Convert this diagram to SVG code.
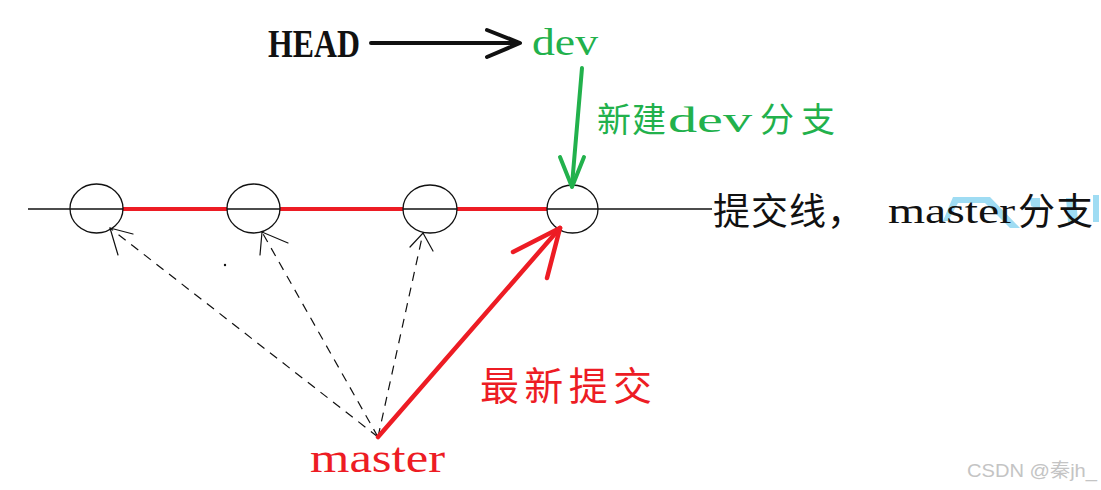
<svg xmlns="http://www.w3.org/2000/svg" width="1101" height="490" viewBox="0 0 1101 490">
<style>
.cjk{font-family:"Noto Sans CJK SC","Noto Sans",sans-serif;}
.ser{font-family:"Liberation Serif","DejaVu Serif",serif;}
.green{fill:#22B14C;}
.red{fill:#ED1C24;}
.blk{fill:#111;}
.commit{fill:none;stroke:#111;stroke-width:1.3;}
.dash{fill:none;stroke:#111;stroke-width:1.2;stroke-dasharray:9 7;}
.thin{fill:none;stroke:#111;stroke-width:1.2;stroke-linecap:round;}
.redl{fill:none;stroke:#ED1C24;stroke-width:4.5;stroke-linecap:round;stroke-linejoin:round;}
.grnl{fill:none;stroke:#22B14C;stroke-width:4;stroke-linecap:round;stroke-linejoin:round;}
.blkl{fill:none;stroke:#111;stroke-width:4;stroke-linecap:round;stroke-linejoin:round;}
.hl{fill:#9fdcf3;}
</style>
<rect width="1101" height="490" fill="#fff"/>

<g id="highlight">
<polygon class="hl" points="943,221 953,197 990,197 1020,228 1010,228 985,203 958,203 948,221"/>
<polygon class="hl" points="1030,198 1040,198 1040,210 1031,206"/>
<polygon class="hl" points="1066,198 1076,198 1078,222 1068,222"/>
<rect class="hl" x="1093" y="195" width="6" height="27"/>
</g>

<g id="commit-line">
<line x1="28" y1="209" x2="712" y2="209" stroke="#111" stroke-width="1.5"/>
<line x1="123" y1="209" x2="227" y2="209" stroke="#ED1C24" stroke-width="4"/>
<line x1="280" y1="209" x2="403" y2="209" stroke="#ED1C24" stroke-width="4"/>
<line x1="457" y1="209" x2="547" y2="209" stroke="#ED1C24" stroke-width="4"/>
</g>

<g id="commit1"><ellipse class="commit" cx="96.5" cy="208.5" rx="26.5" ry="24.5"/></g>
<g id="commit2"><ellipse class="commit" cx="253.5" cy="208.5" rx="26.5" ry="24.5"/></g>
<g id="commit3"><ellipse class="commit" cx="430" cy="209" rx="27" ry="24"/></g>
<g id="commit4"><ellipse class="commit" cx="572.5" cy="209" rx="25.5" ry="24"/></g>

<g id="connectors">
<line class="blkl" x1="371" y1="43" x2="517" y2="43"/>
<polyline class="blkl" stroke-width="5" points="487,30 520,43 487,57"/>
<line class="grnl" x1="582" y1="68" x2="572" y2="185"/>
<polyline class="grnl" points="560,157 572,187 584,157"/>
<line class="dash" x1="378" y1="437" x2="110" y2="228"/>
<polyline class="thin" points="133,234 110,228 118,255"/>
<line class="dash" x1="378" y1="437" x2="262" y2="232"/>
<polyline class="thin" points="260,255 262,232 288,243"/>
<line class="dash" x1="378" y1="437" x2="423" y2="233"/>
<polyline class="thin" points="410,247 423,233 433,251"/>
<line class="redl" x1="378" y1="437" x2="560" y2="228"/>
<polyline class="redl" stroke-width="5" points="513,252 560,228 547,278"/>
<circle cx="225" cy="265" r="1.2" fill="#111"/>
</g>

<g id="head">
<text class="ser blk" x="268" y="57" font-size="40" font-weight="bold" textLength="92" lengthAdjust="spacingAndGlyphs">HEAD</text>
</g>
<g id="dev">
<text class="ser green" x="532" y="55" font-size="38" textLength="66" lengthAdjust="spacingAndGlyphs">dev</text>
</g>
<g id="new-dev-label">
<text class="cjk green" y="132" font-size="34"><tspan x="597">新</tspan><tspan x="632">建</tspan><tspan class="ser" x="668" font-size="35" textLength="84" lengthAdjust="spacingAndGlyphs">dev</tspan><tspan x="760">分</tspan><tspan x="801">支</tspan></text>
</g>
<g id="commit-line-label">
<text class="cjk blk" y="225" font-size="37"><tspan x="713">提</tspan><tspan x="751">交</tspan><tspan x="789">线</tspan><tspan x="827">，</tspan><tspan class="ser" x="888" y="223" font-size="35" textLength="127" lengthAdjust="spacingAndGlyphs">master</tspan><tspan x="1018" y="225">分</tspan><tspan x="1056">支</tspan></text>
</g>
<g id="latest-label">
<text class="cjk red" x="480" y="400" font-size="39" textLength="172" lengthAdjust="spacing">最新提交</text>
</g>
<g id="master">
<text class="ser red" x="310" y="472" font-size="42" textLength="135" lengthAdjust="spacingAndGlyphs">master</text>
</g>
<g id="watermark">
<text x="967" y="477" font-family="'Liberation Sans','Noto Sans CJK SC',sans-serif" font-size="19" fill="#c4c4c4" textLength="130" lengthAdjust="spacingAndGlyphs">CSDN @秦jh_</text>
</g>
</svg>
